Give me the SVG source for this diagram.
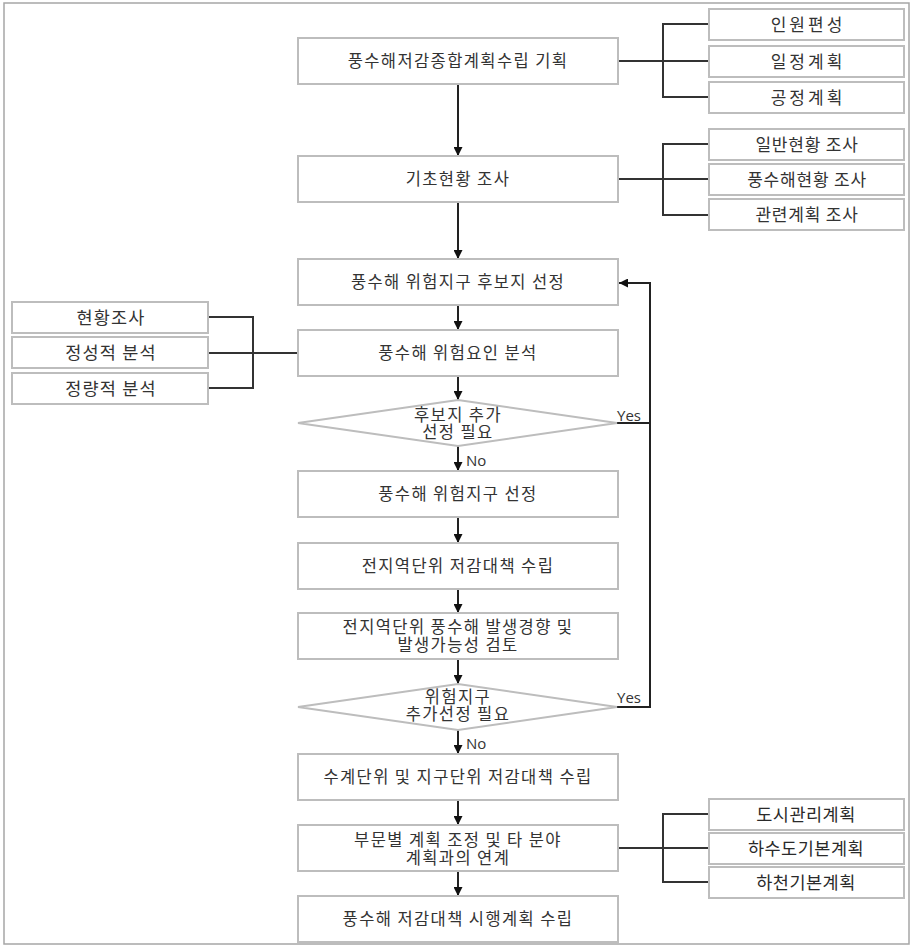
<svg xmlns="http://www.w3.org/2000/svg" width="914" height="949" viewBox="0 0 914 949">
<defs>
<marker id="ah" markerUnits="userSpaceOnUse" markerWidth="9" markerHeight="9" refX="9" refY="4.5" orient="auto">
<path d="M0,0 L9,4.5 L0,9 z" fill="#111"/>
</marker>
<style>
.bx{fill:#fff;stroke:#bdbdbd;stroke-width:2}
.t{font-family:"Noto Sans CJK KR","Noto Sans",sans-serif;font-size:16.5px;fill:#333;text-anchor:middle;letter-spacing:1.4px}
.s{font-family:"Noto Sans CJK KR","Noto Sans",sans-serif;font-size:17px;fill:#333;text-anchor:middle;letter-spacing:0.8px}
.g{font-family:"Noto Sans CJK KR","Noto Sans",sans-serif;font-size:17.5px;fill:#2a2a2a;text-anchor:middle;letter-spacing:0.5px}
.yn{font-family:"Open Sans","Noto Sans",sans-serif;font-size:15px;fill:#333}
.c{fill:none;stroke:#222;stroke-width:2}
.b{fill:none;stroke:#333;stroke-width:2}
</style>
</defs>
<rect x="4" y="3" width="905" height="941" fill="#fff" stroke="#a6a6a6" stroke-width="1.5"/>

<g id="connectors">
<line class="c" x1="458" y1="84" x2="458" y2="156" marker-end="url(#ah)"/>
<line class="c" x1="458" y1="202" x2="458" y2="259" marker-end="url(#ah)"/>
<line class="c" x1="458" y1="305" x2="458" y2="330" marker-end="url(#ah)"/>
<line class="c" x1="458" y1="376" x2="458" y2="400" marker-end="url(#ah)"/>
<line class="c" x1="458" y1="446" x2="458" y2="471" marker-end="url(#ah)"/>
<line class="c" x1="458" y1="517" x2="458" y2="543" marker-end="url(#ah)"/>
<line class="c" x1="458" y1="589" x2="458" y2="613" marker-end="url(#ah)"/>
<line class="c" x1="458" y1="659" x2="458" y2="684" marker-end="url(#ah)"/>
<line class="c" x1="458" y1="730" x2="458" y2="754" marker-end="url(#ah)"/>
<line class="c" x1="458" y1="800" x2="458" y2="825" marker-end="url(#ah)"/>
<line class="c" x1="458" y1="871" x2="458" y2="896" marker-end="url(#ah)"/>
<polyline class="c" points="617,423 650,423"/>
<polyline class="c" points="617,707 650,707 650,283 619,283" marker-end="url(#ah)"/>
<polyline class="b" points="618,61 709,61"/>
<polyline class="b" points="709,24 663,24 663,97 709,97"/>
<polyline class="b" points="618,179 709,179"/>
<polyline class="b" points="709,144 663,144 663,215 709,215"/>
<polyline class="b" points="208,353 298,353"/>
<polyline class="b" points="208,317 253,317 253,388 208,388"/>
<polyline class="b" points="618,848 709,848"/>
<polyline class="b" points="709,814 663,814 663,882 709,882"/>
<text class="yn" x="617" y="421">Yes</text>
<text class="yn" x="617" y="703">Yes</text>
<text class="yn" x="466" y="466">No</text>
<text class="yn" x="466" y="749">No</text>
</g>

<g id="n1"><rect class="bx" x="298" y="38" width="320" height="46"/><text class="t" x="458" y="67">풍수해저감종합계획수립 기획</text></g>
<g id="n1a"><rect class="bx" x="709" y="9" width="195" height="31"/><text class="s" x="808" y="31" style="letter-spacing:3px">인원편성</text></g>
<g id="n1b"><rect class="bx" x="709" y="46" width="195" height="31"/><text class="s" x="808" y="68" style="letter-spacing:3px">일정계획</text></g>
<g id="n1c"><rect class="bx" x="709" y="82" width="195" height="31"/><text class="s" x="808" y="104" style="letter-spacing:3px">공정계획</text></g>

<g id="n2"><rect class="bx" x="298" y="156" width="320" height="46"/><text class="t" x="458" y="185">기초현황 조사</text></g>
<g id="n2a"><rect class="bx" x="709" y="129" width="195" height="31"/><text class="s" x="807" y="151">일반현황 조사</text></g>
<g id="n2b"><rect class="bx" x="709" y="164" width="195" height="31"/><text class="s" x="807" y="186">풍수해현황 조사</text></g>
<g id="n2c"><rect class="bx" x="709" y="199" width="195" height="31"/><text class="s" x="807" y="221">관련계획 조사</text></g>

<g id="n3"><rect class="bx" x="298" y="259" width="320" height="46"/><text class="t" x="458" y="288">풍수해 위험지구 후보지 선정</text></g>
<g id="n4"><rect class="bx" x="298" y="330" width="320" height="46"/><text class="t" x="458" y="359">풍수해 위험요인 분석</text></g>
<g id="n4a"><rect class="bx" x="12" y="302" width="196" height="31"/><text class="s" x="111" y="324" style="font-size:17.5px;letter-spacing:1.2px">현황조사</text></g>
<g id="n4b"><rect class="bx" x="12" y="337" width="196" height="31"/><text class="s" x="111" y="359" style="font-size:17.5px;letter-spacing:1.2px">정성적 분석</text></g>
<g id="n4c"><rect class="bx" x="12" y="373" width="196" height="31"/><text class="s" x="111" y="395" style="font-size:17.5px;letter-spacing:1.2px">정량적 분석</text></g>

<g id="d1"><polygon class="bx" points="298,423 458,400 617,423 458,446"/><text class="t" x="458" y="421"><tspan x="458">후보지 추가</tspan><tspan x="458" dy="17">선정 필요</tspan></text></g>

<g id="n5"><rect class="bx" x="298" y="471" width="320" height="46"/><text class="t" x="458" y="500">풍수해 위험지구 선정</text></g>
<g id="n6"><rect class="bx" x="298" y="543" width="320" height="46"/><text class="t" x="458" y="572">전지역단위 저감대책 수립</text></g>
<g id="n7"><rect class="bx" x="298" y="613" width="320" height="46"/><text class="t" x="458" y="633"><tspan x="458">전지역단위 풍수해 발생경향 및</tspan><tspan x="458" dy="18">발생가능성 검토</tspan></text></g>

<g id="d2"><polygon class="bx" points="298,707 458,684 617,707 458,730"/><text class="t" x="458" y="703"><tspan x="458">위험지구</tspan><tspan x="458" dy="17">추가선정 필요</tspan></text></g>

<g id="n8"><rect class="bx" x="298" y="754" width="320" height="46"/><text class="t" x="458" y="783">수계단위 및 지구단위 저감대책 수립</text></g>
<g id="n9"><rect class="bx" x="298" y="825" width="320" height="46"/><text class="t" x="458" y="846"><tspan x="458">부문별 계획 조정 및 타 분야</tspan><tspan x="458" dy="18">계획과의 연계</tspan></text></g>
<g id="n9a"><rect class="bx" x="709" y="799" width="195" height="31"/><text class="g" x="806" y="821">도시관리계획</text></g>
<g id="n9b"><rect class="bx" x="709" y="833" width="195" height="31"/><text class="g" x="806" y="855">하수도기본계획</text></g>
<g id="n9c"><rect class="bx" x="709" y="867" width="195" height="31"/><text class="g" x="806" y="889">하천기본계획</text></g>

<g id="n10"><rect class="bx" x="298" y="896" width="320" height="46"/><text class="t" x="458" y="925">풍수해 저감대책 시행계획 수립</text></g>
</svg>
